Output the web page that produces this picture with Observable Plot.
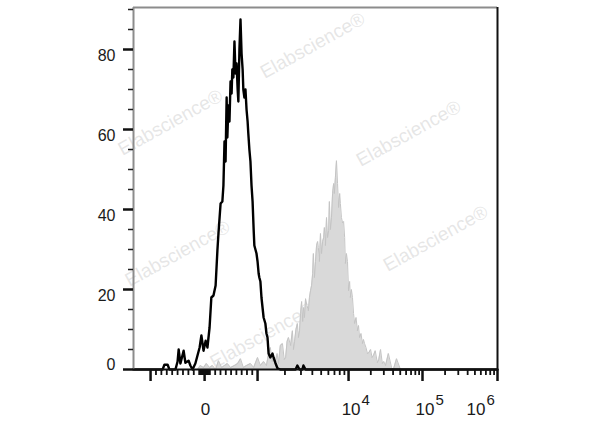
<!DOCTYPE html>
<html><head><meta charset="utf-8">
<script src="https://cdn.jsdelivr.net/npm/d3@7"></script>
<script src="https://cdn.jsdelivr.net/npm/@observablehq/plot@0.6"></script>
<style>body{margin:0;background:#fff} #chart svg{display:block}</style>
</head><body><div id="chart"></div>
<script>
// Control (unstained, black outline) histogram: channel position, count
const controlX = [0, 76, 82, 87, 96, 101, 118, 124, 127, 132, 141, 146, 155, 160, 166, 174, 186, 191, 197, 203, 208, 214, 219, 225, 231, 236, 239, 245, 250, 253, 256, 259, 262, 264, 267, 270, 273, 276, 278, 281, 284, 287, 290, 293, 295, 298, 301, 304, 307, 309, 312, 315, 318, 321, 323, 326, 329, 332, 335, 338, 340, 343, 346, 349, 352, 354, 357, 360, 363, 366, 371, 374, 377, 380, 385, 391, 394, 399, 405, 413, 456, 461, 467, 475, 478, 484, 1024];
const controlY = [0, 0, 0, 1.2, 1.2, 0, 0, 2, 5, 1.5, 4.7, 1.7, 2.2, 1, 0, 1.5, 5.5, 8.5, 4.7, 7.2, 5.5, 10.5, 18, 18.5, 21, 29.7, 34, 41.5, 42, 46, 57, 52, 68, 58, 66, 62, 72, 69, 75, 73, 82, 74, 76.5, 70, 67, 80, 87.5, 79, 75, 70, 68, 70, 65, 62, 59, 55, 52, 46, 42, 35, 31, 30, 29, 27, 24, 23, 22, 18, 15.5, 13, 11.5, 9, 8, 4, 3, 4, 3, 1.7, 0.3, 0, 0, 1, 0, 0, 1, 0, 0];

// Stained sample (grey filled) histogram: channel position, count
const sampleX = [180, 188, 197, 205, 214, 222, 231, 239, 248, 256, 264, 273, 284, 293, 301, 309, 318, 329, 338, 349, 357, 366, 374, 380, 385, 390, 394, 399, 404, 408, 413, 419, 424, 428, 432, 436, 442, 447, 450, 453, 457, 461, 464, 467, 470, 473, 476, 478, 481, 484, 488, 492, 495, 498, 501, 504, 506, 509, 512, 515, 518, 520, 523, 526, 529, 532, 535, 537, 540, 543, 546, 549, 551, 554, 557, 560, 563, 565, 568, 571, 574, 577, 580, 582, 585, 588, 591, 594, 596, 599, 602, 605, 608, 610, 613, 616, 619, 622, 626, 630, 633, 636, 640, 644, 647, 650, 654, 658, 662, 667, 671, 675, 680, 686, 690, 695, 700, 704, 709, 717, 726, 731, 740, 751, 757];
const sampleY = [0, 1, 0.5, 1.5, 0.5, 1, 0, 2.2, 0.5, 1, 1.5, 0.5, 1, 1.5, 2.7, 0.5, 1, 1.5, 0.5, 3, 1, 2, 1, 4, 5.5, 2, 3, 2, 4, 1.5, 6, 6.5, 2.5, 3, 7, 8, 6, 9.7, 5, 7, 10, 11.5, 8, 9.7, 14, 17, 12, 15.5, 13, 17.7, 16, 14.7, 18, 19.7, 21, 24, 29, 23, 27, 31, 32, 30.5, 27, 34, 29, 32, 33, 35.5, 31, 38, 33, 34.7, 42, 35, 38, 44, 46.5, 44, 48, 52.2, 46.5, 40.5, 44, 41.5, 38, 36.7, 37, 33, 26.5, 29, 27, 19.7, 22, 18, 20, 18, 14, 11.5, 13, 9.7, 11, 8, 9, 6.5, 7.5, 6.5, 5.5, 4, 4.2, 5, 3, 3.5, 4.7, 1.7, 2.5, 5, 1.5, 2, 1, 4, 0.5, 0, 2.7, 0];

// Axis ticks
const yMajorTicks = [0, 20, 40, 60, 80];
const yMinorTicks = [5, 10, 15, 25, 30, 35, 45, 50, 55, 65, 70, 75, 85, 90];
const xMajorRaw = [-1000, 0, 1000, 1e4, 1e5, 1e6];
const xMinorRaw = [-900, -800, -700, -600, -500, -400, -300, -200, -100, -80, -60, -40, -20, 20, 40, 60, 80,
  100, 200, 300, 400, 500, 600, 700, 800, 900,
  2e3, 3e3, 4e3, 5e3, 6e3, 7e3, 8e3, 9e3,
  2e4, 3e4, 4e4, 5e4, 6e4, 7e4, 8e4, 9e4,
  2e5, 3e5, 4e5, 5e5, 6e5, 7e5, 8e5, 9e5];
const xLabelRaw = [0, 1e4, 1e5, 1e6];
const xLabelBase = ["0", "10", "10", "10"];
const xLabelExp = ["", "4", "5", "6"];

// Biexponential display: raw value anchors -> channel
const axisAnchorRaw = [-1000, 0, 1000, 1e4, 1e5, 1e6];
const axisAnchorChannel = [48, 200, 349, 605, 813, 1024];

// Watermarks (data coordinates)
const watermarkX = [504, 104, 774, 124, 850, 363];
const watermarkY = [81, 61.75, 59, 29, 32.75, 8.5];

function toChannel(v) {
  for (let i = 0; i < axisAnchorRaw.length - 1; i++) {
    const a = axisAnchorRaw[i], b = axisAnchorRaw[i + 1];
    if (v >= a && v <= b) {
      const ca = axisAnchorChannel[i], cb = axisAnchorChannel[i + 1];
      if (a >= 1000) return ca + (Math.log10(v) - Math.log10(a)) / (Math.log10(b) - Math.log10(a)) * (cb - ca);
      return ca + (v - a) / (b - a) * (cb - ca);
    }
  }
  return NaN;
}

const control = controlX.map((x, i) => ({x, y: controlY[i]}));
const sample = sampleX.map((x, i) => ({x, y: sampleY[i]}));
const watermarks = watermarkX.map((x, i) => ({x, y: watermarkY[i]}));
const yTop = 90.5;

const labelMarks = [];
xLabelRaw.forEach((r, i) => {
  const c = toChannel(r);
  if (xLabelExp[i] === "") {
    labelMarks.push(Plot.text([c], {x: d => d, frameAnchor: "bottom", text: () => xLabelBase[i], dx: 1, dy: 45, fontSize: 17, fill: "#1a1a1a"}));
  } else {
    const off = r === 1e6 ? -12 : 12;
    labelMarks.push(Plot.text([c], {x: d => d, frameAnchor: "bottom", text: () => xLabelBase[i], textAnchor: "end", dx: off, dy: 45, fontSize: 17, fill: "#1a1a1a"}));
    labelMarks.push(Plot.text([c], {x: d => d, frameAnchor: "bottom", text: () => xLabelExp[i], textAnchor: "start", dx: off + 1, dy: 35, fontSize: 15, fill: "#1a1a1a"}));
  }
});

const chart = Plot.plot({
  width: 600,
  height: 427,
  marginLeft: 133,
  marginRight: 103,
  marginTop: 7,
  marginBottom: 58,
  style: {fontFamily: "'Liberation Sans', Arial, sans-serif", background: "#fff"},
  x: {domain: [0, 1024], axis: null},
  y: {domain: [0, yTop], axis: null},
  marks: [
    Plot.text(watermarks, {x: "x", y: "y", text: () => "Elabscience®", rotate: -29, fontSize: 19, fill: "#c8c8c8", fillOpacity: 0.45}),
    Plot.areaY(sample, {x: "x", y: "y", fill: "#d9d9d9"}),
    Plot.line(sample, {x: "x", y: "y", stroke: "#c4c4c4", strokeWidth: 1}),
    Plot.line(control, {x: "x", y: "y", stroke: "#000", strokeWidth: 2.4}),
    Plot.ruleY([yTop], {stroke: "#8c8c8c", strokeWidth: 2}),
    Plot.ruleX([0], {stroke: "#8c8c8c", strokeWidth: 2}),
    Plot.ruleX([1024], {stroke: "#111", strokeWidth: 2}),
    Plot.ruleY([0], {stroke: "#111", strokeWidth: 2}),
    Plot.axisY({ticks: yMinorTicks, tickSize: 5, text: null, label: null, stroke: "#222", strokeWidth: 1.5}),
    Plot.axisY({ticks: yMajorTicks, tickSize: 10, text: null, label: null, stroke: "#111", strokeWidth: 2.5}),
    Plot.text(yMajorTicks.filter(d => d !== 0), {y: d => d, frameAnchor: "left", textAnchor: "end", dx: -18, dy: 6, fontSize: 16, fill: "#1a1a1a", text: d => String(d)}),
    Plot.text(yMajorTicks.filter(d => d === 0), {y: d => d, frameAnchor: "left", textAnchor: "end", dx: -18, dy: -5, fontSize: 16, fill: "#1a1a1a", text: d => String(d)}),
    Plot.axisX({ticks: xMinorRaw.map(toChannel), tickSize: 6, text: null, label: null, stroke: "#111", strokeWidth: 1.8}),
    Plot.axisX({ticks: xMajorRaw.map(toChannel), tickSize: 12, text: null, label: null, stroke: "#111", strokeWidth: 2.5}),
    ...labelMarks
  ]
});
document.getElementById("chart").appendChild(chart);
</script>
</body></html>
